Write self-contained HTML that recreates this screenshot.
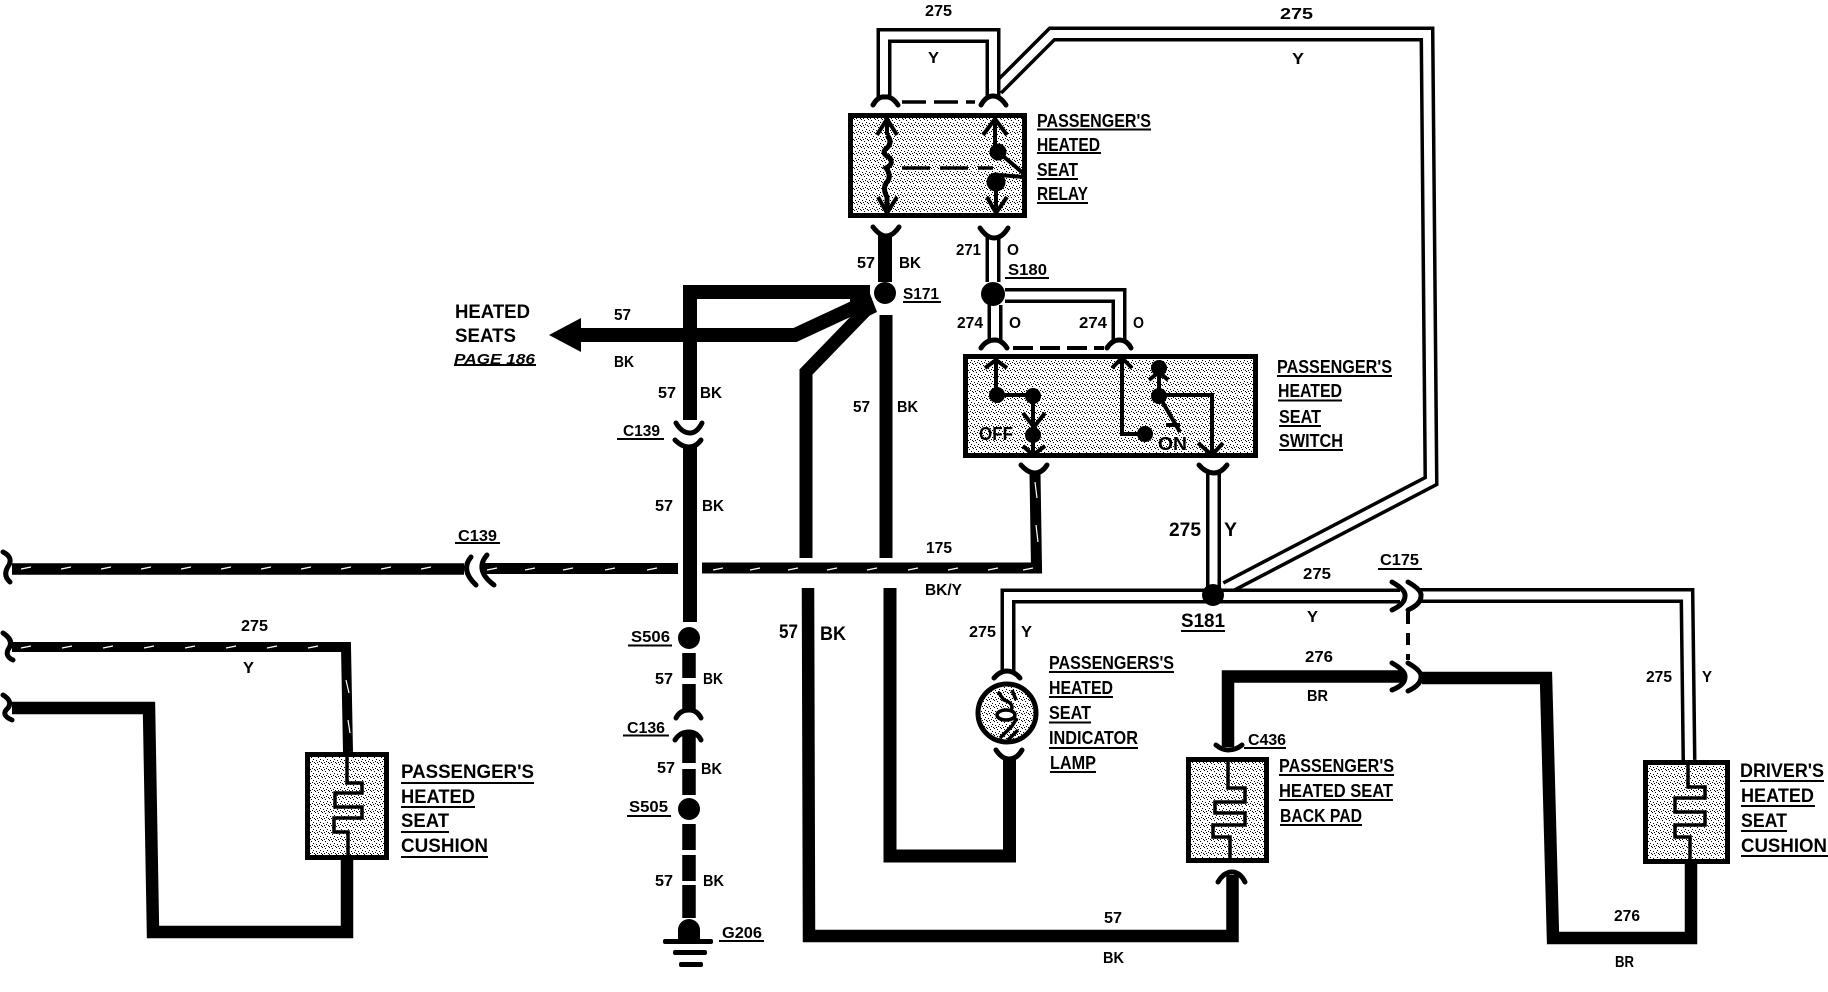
<!DOCTYPE html>
<html><head><meta charset="utf-8"><title>Heated seat wiring diagram</title>
<style>
html,body{margin:0;padding:0;background:#fff}
svg{display:block}
text{font-family:"Liberation Sans",sans-serif;font-weight:bold;fill:#000}
.l{font-size:18px}.n{font-size:16px}.b{font-size:19px}
.w{fill:none;stroke:#000;stroke-linejoin:miter}
.c{fill:none;stroke:#000;stroke-width:5;stroke-linecap:round}
.t{fill:none;stroke:#000;stroke-width:4}
.m{fill:none;stroke:#fff;stroke-width:1.2}
</style></head><body>
<svg xmlns="http://www.w3.org/2000/svg" width="1828" height="992" viewBox="0 0 1828 992">
<defs>
<pattern id="s" width="7" height="7" patternUnits="userSpaceOnUse" shape-rendering="crispEdges">
<rect width="7" height="7" fill="#fff"/>
<rect x="0" y="0" width="1" height="1" fill="#000"/><rect x="3" y="1" width="1" height="1" fill="#000"/>
<rect x="5" y="3" width="1" height="1" fill="#000"/><rect x="1" y="4" width="1" height="1" fill="#000"/>
<rect x="4" y="5" width="1" height="1" fill="#000"/><rect x="2" y="6" width="1" height="1" fill="#000"/>
<rect x="6" y="6" width="1" height="1" fill="#000"/>
</pattern>
</defs>
<rect width="1828" height="992" fill="#fff"/>

<!-- boxes -->
<rect x="850.5" y="115.5" width="174" height="100" fill="url(#s)" stroke="#000" stroke-width="5"/>
<rect x="965.5" y="356.5" width="290" height="99" fill="url(#s)" stroke="#000" stroke-width="5"/>
<rect x="307.5" y="754.5" width="79" height="103" fill="url(#s)" stroke="#000" stroke-width="5"/>
<rect x="1188.5" y="759.5" width="78" height="101" fill="url(#s)" stroke="#000" stroke-width="5"/>
<rect x="1645.5" y="762.5" width="82" height="99" fill="url(#s)" stroke="#000" stroke-width="5"/>
<circle cx="1007" cy="713" r="29" fill="url(#s)" stroke="#000" stroke-width="5"/>

<!-- double wires -->
<path class="w" stroke-width="15" d="M997,89L1052,34H1427L1431,481L1226,588"/>
<path fill="none" stroke="#fff" stroke-width="8" d="M997,89L1052,34H1427L1431,481L1226,588"/>
<g class="w" stroke-width="15">
<path d="M884,97V35.5H993V97"/>
<path d="M993,236V282"/>
<path d="M995,305V342"/>
<path d="M1005,295.5H1119V342"/>
<path d="M1213.5,473V590"/>
<path d="M1008,672V596H1400"/>
<path d="M1420,595.5H1687L1689,760"/>
</g>
<g fill="none" stroke="#fff" stroke-width="8">
<path d="M884,97V35.5H993V97"/>
<path d="M993,236V282"/>
<path d="M995,305V342"/>
<path d="M1005,295.5H1119V342"/>
<path d="M1213.5,473V590"/>
<path d="M1008,672V596H1400"/>
<path d="M1420,595.5H1687L1689,760"/>
</g>

<!-- solid wires -->
<g class="w" stroke-width="14">
<path d="M885,235V282"/>
<path d="M690,420V292H870"/>
<path d="M575,335H795L866,302"/>
<path d="M690,447V622"/>
<path d="M886,315V558" stroke-width="13"/>
<path d="M890,588V856H1009.5V758" stroke-width="13"/>
<path d="M866,310L806,372V558" stroke-width="13"/>
<path d="M808,588L809,936H1232.500V875" stroke-width="12.5"/>
<path d="M1228,747V676.500H1403" stroke-width="12.5"/>
<path d="M1422,678H1546L1553,938H1691V863" stroke-width="12.5"/>
<path d="M12,708H149L153,932H347V860" stroke-width="12.5"/>
<path d="M12,647H346L348,752" stroke-width="10"/>
<path d="M12,569H464" stroke-width="11.5"/>
<path d="M484,568.500H678" stroke-width="11"/>
<path d="M702,568H1036.500L1035,473" stroke-width="11"/>
</g>
<polygon points="850,298 867,286 877,312 850,325"/>
<g class="w" stroke-width="13.5">
<path d="M689,653V678M689,684V712M689,734V763M689,769V795M689,824V850M689,855V881M689,885V918"/>
</g>
<polygon points="549,335 581,318 581,352"/>
<!-- wire tracer marks -->
<path class="m" d="M21,569l10,-2m30,2l10,-2m30,2l10,-2m30,2l10,-2m30,2l10,-2m30,2l10,-2m30,2l10,-2m30,2l10,-2m30,2l10,-2m30,2l10,-2m30,2l10,-2"/>
<path class="m" d="M487,570l10,-2m28,2l10,-2m28,2l10,-2m32,2l10,-2m32,2l10,-2"/>
<path class="m" d="M713,570l10,-2m27,2l10,-2m28,2l10,-2m29,2l10,-2m30,2l10,-2m31,2l10,-2m30,2l10,-2m30,2l10,-2m25,2l10,-2"/>
<path class="m" d="M21,648l10,-2m31,2l10,-2m31,2l10,-2m31,2l10,-2m31,2l10,-2m31,2l10,-2m31,2l10,-2m31,2l10,-2"/>
<path class="m" d="M346,680l3,13M348,720l2,13"/>
<path class="m" d="M1035,482l2,16M1036,525l2,17"/>

<!-- connector caps -->
<g class="c">
<path d="M873,105Q878,96 885,97Q892,96 898,105"/><path d="M981,105Q986,96 993,96Q1000,96 1006,105"/>
<path d="M873,227Q880,236 886,236Q893,236 899,227"/><path d="M980,228Q987,238 994,238Q1002,238 1008,228"/>
<path d="M981,348Q986,340 995,340Q1002,340 1007,348"/><path d="M1107,348Q1112,340 1119,340Q1127,340 1131,348"/>
<path d="M1021,465Q1028,473 1035,473Q1042,473 1047,465"/><path d="M1199,465Q1206,473 1214,473Q1221,473 1227,465"/>
<path d="M676,423Q682,433 690,433Q697,433 702,423"/><path d="M675,440Q682,447 689,447Q696,447 701,440"/>
<path d="M676,718Q680,710 689,710Q697,710 701,718"/><path d="M675,740Q680,732 689,732Q697,732 701,740"/>
<path d="M471,557Q460,570 476,585"/><path d="M487,555Q474,570 494,585"/>
<path d="M3,552Q13,557 9,565Q2,575 10,582"/><path d="M3,633Q14,640 9,648Q4,656 13,660"/><path d="M3,695Q13,701 8,708Q0,715 12,720"/>
<path d="M994,678Q1000,671 1007,671Q1014,671 1020,678"/><path d="M996,750Q1002,759 1009,759Q1017,759 1022,750"/>
<path d="M1216,745Q1222,750 1228,750Q1236,750 1242,745"/><path d="M1218,882Q1224,872 1232,872Q1240,872 1245,882"/>
<path d="M1392,582Q1406,590 1405,596Q1405,604 1392,610"/><path d="M1408,582Q1422,590 1421,596Q1421,604 1408,610"/>
<path d="M1392,663Q1406,671 1405,677Q1405,685 1392,690"/><path d="M1408,663Q1422,671 1421,677Q1421,685 1408,691"/>
</g>

<!-- dashed links -->
<g fill="none" stroke="#000" stroke-width="3.5">
<path d="M902,102H975" stroke-dasharray="24 8"/>
<path d="M902,168H993" stroke-dasharray="28 10"/>
<path d="M1013,348H1104" stroke-width="4" stroke-dasharray="20 7"/>
</g>
<path d="M1408,612V660" stroke="#000" stroke-width="4" stroke-dasharray="12 9" fill="none"/>

<!-- relay internals -->
<g class="t">
<path d="M877,135L887,119L897,135M887,119V135"/>
<path stroke-width="5" d="M887,135Q893,142 887,148Q880,153 890,158Q894,164 886,168Q892,176 887,182Q882,188 887,197V213"/>
<path d="M878,197L887,213L897,197"/>
<path d="M983,135L995,119L1007,135M995,119V150"/>
<path d="M997,151L1023,173M1000,175L1023,177"/>
<path d="M996,184V212M987,197L996,213L1007,197"/>
</g>
<circle cx="998" cy="152" r="8.5"/><circle cx="996" cy="182" r="9.5"/>

<!-- switch internals -->
<g class="t">
<path d="M985,368L996,360L1007,368M996,360V395H1033V432"/>
<path d="M1023,413L1034,427L1045,413"/>
<path d="M1033,436V454M1023,446L1033,455L1045,446"/>
<path d="M1112,368L1122,358L1132,368M1122,358V434H1145"/>
<path d="M1149,380L1159,372L1168,380M1159,372V396"/>
<path d="M1159,395H1212V455M1198,443L1212,455L1223,443"/>
<path d="M1159,396L1180,432M1166,425L1180,425"/>
</g>
<circle cx="997" cy="395" r="8"/><circle cx="1033" cy="396" r="8"/><circle cx="1033" cy="435" r="8"/>
<circle cx="1145" cy="434" r="8"/><circle cx="1159" cy="368" r="8"/><circle cx="1159" cy="396" r="8"/>

<!-- heating elements -->
<g fill="none" stroke="#000" stroke-width="3.5">
<path d="M347,757V783H362V793H335V807H362V818H334V832H348V857"/>
<path d="M1228,762V788H1245V802H1215V813H1245V825H1213V837H1230V860"/>
<path d="M1688,764V787H1705V798H1675V812H1705V825H1675V837H1690V860"/>
</g>

<!-- lamp filament -->
<g fill="none" stroke="#000" stroke-width="3.5">
<path d="M998,692L1004,700Q1016,704 1010,712M1012,690L1016,700M1000,738L1012,726L1017,718M1008,740L1018,730"/>
</g>
<ellipse cx="1006" cy="715" rx="9" ry="5" fill="#fff" stroke="#000" stroke-width="3.5"/>

<!-- splices -->
<circle cx="885" cy="293" r="11"/><circle cx="993" cy="294" r="12"/><circle cx="1213" cy="595" r="11"/>
<circle cx="689" cy="638" r="11"/><circle cx="689" cy="809" r="11"/>
<path d="M678,941V930A11,11 0 0 1 700,930V941Z"/>
<rect x="663" y="939" width="50" height="5" rx="2"/><rect x="673" y="950" width="34" height="5" rx="2"/><rect x="679" y="962" width="24" height="5" rx="2"/>

<!-- underlines -->
<path fill="none" stroke="#000" stroke-width="2" d="
M1037,129.500H1151M1037,153H1101M1037,179H1078M1037,203H1088
M1277,376H1392M1278,400.500H1342M1279,426H1321M1279,450H1343
M903,302H941M1005,278H1049
M455,543H500M617,439H664M628,645.500H672M623,735.500H669M627,816H671M719,941H764
M1181,631H1225M1378,569H1422M1244,748H1286
M1049,672H1174M1049,697H1113M1049,722.500H1091M1049,748H1138M1050,772H1096
M1279,775H1394M1279,800H1393M1280,825H1362
M1740,781H1824M1741,806H1815M1741,831H1787M1741,856H1828
M401,783H534M401,807H475M401,832H449M401,857H488
M454,365H536"/>

<!-- labels -->
<g class="l">
<text x="1037" y="127" textLength="114" lengthAdjust="spacingAndGlyphs">PASSENGER'S</text>
<text x="1037" y="151" textLength="63" lengthAdjust="spacingAndGlyphs">HEATED</text>
<text x="1037" y="176" textLength="41" lengthAdjust="spacingAndGlyphs">SEAT</text>
<text x="1037" y="200" textLength="51" lengthAdjust="spacingAndGlyphs">RELAY</text>
<text x="1277" y="373" textLength="115" lengthAdjust="spacingAndGlyphs">PASSENGER'S</text>
<text x="1278" y="397" textLength="64" lengthAdjust="spacingAndGlyphs">HEATED</text>
<text x="1279" y="423" textLength="42" lengthAdjust="spacingAndGlyphs">SEAT</text>
<text x="1279" y="447" textLength="64" lengthAdjust="spacingAndGlyphs">SWITCH</text>
<text x="1049" y="669" textLength="125" lengthAdjust="spacingAndGlyphs">PASSENGERS'S</text>
<text x="1049" y="694" textLength="64" lengthAdjust="spacingAndGlyphs">HEATED</text>
<text x="1049" y="719" textLength="42" lengthAdjust="spacingAndGlyphs">SEAT</text>
<text x="1049" y="744" textLength="89" lengthAdjust="spacingAndGlyphs">INDICATOR</text>
<text x="1050" y="769" textLength="46" lengthAdjust="spacingAndGlyphs">LAMP</text>
<text x="1279" y="772" textLength="115" lengthAdjust="spacingAndGlyphs">PASSENGER'S</text>
<text x="1279" y="797" textLength="114" lengthAdjust="spacingAndGlyphs">HEATED SEAT</text>
<text x="1280" y="822" textLength="82" lengthAdjust="spacingAndGlyphs">BACK PAD</text>
<text x="979" y="440" textLength="34" lengthAdjust="spacingAndGlyphs">OFF</text>
<text x="1158" y="450" textLength="29" lengthAdjust="spacingAndGlyphs">ON</text>
</g>
<g class="b">
<text x="1740" y="777" textLength="84" lengthAdjust="spacingAndGlyphs">DRIVER'S</text>
<text x="1741" y="802" textLength="73" lengthAdjust="spacingAndGlyphs">HEATED</text>
<text x="1741" y="827" textLength="46" lengthAdjust="spacingAndGlyphs">SEAT</text>
<text x="1741" y="852" textLength="86" lengthAdjust="spacingAndGlyphs">CUSHION</text>
<text x="401" y="778" textLength="133" lengthAdjust="spacingAndGlyphs">PASSENGER'S</text>
<text x="401" y="803" textLength="74" lengthAdjust="spacingAndGlyphs">HEATED</text>
<text x="401" y="827" textLength="48" lengthAdjust="spacingAndGlyphs">SEAT</text>
<text x="401" y="852" textLength="87" lengthAdjust="spacingAndGlyphs">CUSHION</text>
<text x="455" y="318" textLength="75" lengthAdjust="spacingAndGlyphs">HEATED</text>
<text x="455" y="342" textLength="61" lengthAdjust="spacingAndGlyphs">SEATS</text>
<text x="779" y="638" textLength="19" lengthAdjust="spacingAndGlyphs">57</text>
<text x="820" y="640" textLength="26" lengthAdjust="spacingAndGlyphs">BK</text>
<text x="1169" y="536" textLength="32" lengthAdjust="spacingAndGlyphs">275</text>
<text x="1224" y="536" textLength="13" lengthAdjust="spacingAndGlyphs">Y</text>
<text x="1181" y="627" textLength="44" lengthAdjust="spacingAndGlyphs">S181</text>
</g>
<text x="454" y="364" font-size="15" font-style="italic" textLength="81" lengthAdjust="spacingAndGlyphs">PAGE 186</text>
<g class="n">
<text x="925" y="16" textLength="27" lengthAdjust="spacingAndGlyphs">275</text>
<text x="928" y="63" textLength="11" lengthAdjust="spacingAndGlyphs">Y</text>
<text x="1280" y="19" textLength="33" lengthAdjust="spacingAndGlyphs">275</text>
<text x="1292" y="64" textLength="12" lengthAdjust="spacingAndGlyphs">Y</text>
<text x="957" y="328" textLength="26" lengthAdjust="spacingAndGlyphs">274</text>
<text x="1009" y="328" textLength="12" lengthAdjust="spacingAndGlyphs">O</text>
<text x="1079" y="328" textLength="28" lengthAdjust="spacingAndGlyphs">274</text>
<text x="1133" y="328" textLength="11" lengthAdjust="spacingAndGlyphs">O</text>
<text x="1303" y="579" textLength="28" lengthAdjust="spacingAndGlyphs">275</text>
<text x="1307" y="622" textLength="11" lengthAdjust="spacingAndGlyphs">Y</text>
<text x="1380" y="565" textLength="39" lengthAdjust="spacingAndGlyphs">C175</text>
<text x="458" y="541" textLength="39" lengthAdjust="spacingAndGlyphs">C139</text>
<text x="926" y="553" textLength="26" lengthAdjust="spacingAndGlyphs">175</text>
<text x="925" y="595" textLength="37" lengthAdjust="spacingAndGlyphs">BK/Y</text>
<text x="614" y="320" textLength="17" lengthAdjust="spacingAndGlyphs">57</text>
<text x="614" y="367" textLength="20" lengthAdjust="spacingAndGlyphs">BK</text>
<text x="658" y="398" textLength="18" lengthAdjust="spacingAndGlyphs">57</text>
<text x="700" y="398" textLength="22" lengthAdjust="spacingAndGlyphs">BK</text>
<text x="623" y="436" textLength="37" lengthAdjust="spacingAndGlyphs">C139</text>
<text x="655" y="511" textLength="18" lengthAdjust="spacingAndGlyphs">57</text>
<text x="702" y="511" textLength="22" lengthAdjust="spacingAndGlyphs">BK</text>
<text x="853" y="412" textLength="17" lengthAdjust="spacingAndGlyphs">57</text>
<text x="897" y="412" textLength="21" lengthAdjust="spacingAndGlyphs">BK</text>
<text x="903" y="299" textLength="36" lengthAdjust="spacingAndGlyphs">S171</text>
<text x="857" y="268" textLength="18" lengthAdjust="spacingAndGlyphs">57</text>
<text x="899" y="268" textLength="22" lengthAdjust="spacingAndGlyphs">BK</text>
<text x="956" y="255" textLength="25" lengthAdjust="spacingAndGlyphs">271</text>
<text x="1007" y="255" textLength="12" lengthAdjust="spacingAndGlyphs">O</text>
<text x="1008" y="275" textLength="39" lengthAdjust="spacingAndGlyphs">S180</text>
<text x="631" y="642" textLength="39" lengthAdjust="spacingAndGlyphs">S506</text>
<text x="655" y="684" textLength="18" lengthAdjust="spacingAndGlyphs">57</text>
<text x="703" y="684" textLength="20" lengthAdjust="spacingAndGlyphs">BK</text>
<text x="627" y="733" textLength="38" lengthAdjust="spacingAndGlyphs">C136</text>
<text x="657" y="773" textLength="18" lengthAdjust="spacingAndGlyphs">57</text>
<text x="701" y="774" textLength="21" lengthAdjust="spacingAndGlyphs">BK</text>
<text x="629" y="812" textLength="39" lengthAdjust="spacingAndGlyphs">S505</text>
<text x="655" y="886" textLength="18" lengthAdjust="spacingAndGlyphs">57</text>
<text x="703" y="886" textLength="21" lengthAdjust="spacingAndGlyphs">BK</text>
<text x="722" y="938" textLength="40" lengthAdjust="spacingAndGlyphs">G206</text>
<text x="969" y="637" textLength="27" lengthAdjust="spacingAndGlyphs">275</text>
<text x="1021" y="637" textLength="11" lengthAdjust="spacingAndGlyphs">Y</text>
<text x="1305" y="662" textLength="28" lengthAdjust="spacingAndGlyphs">276</text>
<text x="1307" y="701" textLength="21" lengthAdjust="spacingAndGlyphs">BR</text>
<text x="1248" y="745" textLength="38" lengthAdjust="spacingAndGlyphs">C436</text>
<text x="1104" y="923" textLength="18" lengthAdjust="spacingAndGlyphs">57</text>
<text x="1103" y="963" textLength="21" lengthAdjust="spacingAndGlyphs">BK</text>
<text x="1646" y="682" textLength="26" lengthAdjust="spacingAndGlyphs">275</text>
<text x="1702" y="682" textLength="10" lengthAdjust="spacingAndGlyphs">Y</text>
<text x="1614" y="921" textLength="26" lengthAdjust="spacingAndGlyphs">276</text>
<text x="1615" y="967" textLength="19" lengthAdjust="spacingAndGlyphs">BR</text>
<text x="241" y="631" textLength="27" lengthAdjust="spacingAndGlyphs">275</text>
<text x="243" y="673" textLength="11" lengthAdjust="spacingAndGlyphs">Y</text>
</g>
</svg>
</body></html>
